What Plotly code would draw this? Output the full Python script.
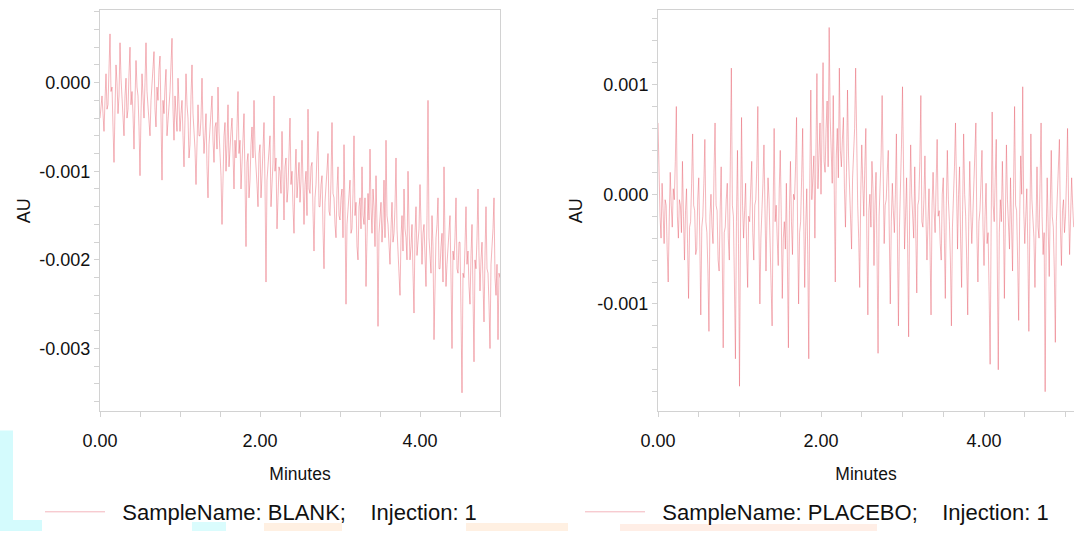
import plotly.graph_objects as go

# ---------------- data (AU values stored in units of 1e-5 AU) ----------------
step_min = 0.0125

blank_e5 = [
    -40, -25, -15, -35, -55, -20, 10, -30, -25, 15, 55, -10, -5, -50, -90, -30, 20, 0, -35, -15,
    45, 5, -20, -45, -60, -15, 5, -40, -30, 10, 40, -25, -10, -35, -75, -20, 25, -5, -15, -50,
    -105, -35, 10, -15, -40, 0, 45, -10, -25, -45, -60, -20, 0, 15, 35, -30, -50, -5, -20, 15,
    30, -40, -110, -20, -35, -5, 15, -60, -45, -25, -10, 20, 50, -30, -65, -15, -30, -55, 5, -25,
    -55, -35, -20, -60, -95, -40, 10, -25, -40, -85, -70, -15, 20, -35, -50, -75, -115, -45, -25, -60,
    -60, -40, 5, -50, -80, -60, -35, -95, -130, -70, -55, -40, -15, -65, -90, -50, -45, -75, -5, -55,
    -75, -105, -160, -80, -60, -45, -100, -70, -25, -95, -70, -55, -40, -90, -120, -65, -85, -50, -10, -80,
    -65, -120, -95, -60, -35, -110, -185, -90, -80, -130, -110, -70, -50, -85, -20, -75, -90, -115, -140, -80,
    -70, -130, -105, -80, -45, -115, -225, -110, -95, -75, -60, -140, -120, -90, -15, -100, -85, -165, -130, -95,
    -100, -125, -55, -110, -155, -95, -85, -135, -120, -80, -40, -115, -100, -140, -170, -105, -75, -130, -110, -90,
    -135, -110, -65, -125, -160, -115, -100, -150, -30, -120, -125, -95, -90, -145, -190, -130, -115, -80, -55, -140,
    -140, -115, -105, -165, -210, -135, -120, -100, -80, -145, -150, -110, -45, -125, -130, -160, -175, -120, -95, -150,
    -155, -130, -120, -175, -70, -145, -250, -160, -140, -115, -110, -170, -165, -125, -60, -150, -135, -185, -200, -140,
    -130, -165, -95, -150, -160, -130, -230, -175, -125, -155, -75, -140, -170, -120, -140, -185, -105, -160, -275, -170,
    -150, -135, -180, -155, -110, -175, -65, -150, -160, -190, -205, -165, -135, -180, -170, -140, -85, -165, -190, -210,
    -240, -175, -150, -190, -120, -165, -175, -200, -100, -160, -200, -185, -160, -215, -260, -170, -140, -195, -180, -165,
    -115, -180, -205, -170, -160, -195, -230, -150, -20, -175, -190, -215, -150, -185, -290, -200, -175, -160, -130, -210,
    -210, -185, -170, -225, -95, -180, -230, -205, -185, -160, -150, -220, -300, -190, -200, -175, -130, -210, -215, -180,
    -180, -260, -350, -215, -220, -185, -140, -205, -190, -230, -250, -195, -160, -240, -315, -200, -210, -175, -120, -195,
    -235, -200, -180, -225, -270, -195, -140, -210, -215, -250, -300, -205, -190, -165, -130, -220, -240, -205, -290, -215,
    -220,
]

placebo_e5 = [
    65, 15, -20, -40, 10, -15, -45, -5, -10, -50, -80, -25, 20, -10, -30, 5, -5, 30, 80, -20,
    -40, -5, -10, -35, 30, -20, -60, -15, 5, -45, -95, -30, -25, 10, 55, -10, -15, -55, -50, -5,
    15, -40, -110, -30, -20, 10, 50, -25, -35, -70, -125, -20, 0, -30, -45, 20, 65, -10, -15, -60,
    -70, -15, 25, -50, -140, -35, -30, -5, 10, -40, -60, 30, 115, -10, -20, -80, -150, -25, 40, -45,
    -175, -30, 70, -10, -40, -15, 10, -50, -85, -20, -25, 5, 30, -35, -60, -10, -5, 25, 80, -30,
    -100, -40, -20, 10, 45, -35, -70, -20, 15, -5, -45, -80, -120, -15, 60, -25, -10, -40, -65, 5,
    40, -20, -95, -40, -25, -50, 10, -60, -140, -15, 30, -25, -55, 0, -5, 25, 70, -30, -100, -35,
    -25, 15, 60, -20, -85, -30, 5, -55, -150, 10, 95, -5, 15, 35, -40, 20, 110, 5, 40, 65,
    0, 45, 120, 30, 20, 60, 85, 25, 152, 70, 45, 10, 90, -20, -80, 35, 60, 15, 115, 40,
    25, 50, 70, 5, -30, 20, 95, 35, 10, -25, -50, 15, 40, 60, 115, 20, -10, -40, -85, 0,
    45, 10, -20, 25, 60, -40, -110, -15, 0, -30, 30, 5, -65, -10, 20, -55, -145, -20, 10, 35,
    90, 15, -45, -10, -5, 20, 40, -35, -100, -25, 10, -15, -35, 0, 55, -40, -120, -30, 0, 45,
    98, 5, -50, -20, 15, -45, -130, -15, 45, 0, -20, -40, 25, -30, -90, -10, -5, 30, 90, -25,
    -30, -5, 35, -20, -60, -25, 5, -50, -110, -10, 20, -15, -35, 10, 50, -20, -15, -45, -60, 0,
    15, -35, -95, -10, 40, -5, -25, -60, -120, -30, -5, 25, 65, -20, -50, 0, 25, -40, -85, -15,
    55, 0, -20, -60, -110, -25, 30, -15, -45, -20, 5, 25, 65, -35, -80, -25, -15, 10, 40, -30,
    -65, -20, 10, -45, -35, -90, -155, -30, 75, -10, -25, 15, 50, -60, -160, -35, -5, -25, 30, -15,
    -95, -20, 45, -5, -30, -50, 15, -25, -70, 5, 80, -10, -15, -60, -115, -20, 35, 0, 98, -15,
    -45, -20, 5, -50, -125, -25, 55, -5, -20, -40, -85, -15, 25, -30, -40, 10, 65, -20, -55, -35,
    -180, -40, 15, -30, -75, -10, 40, -20, -30, -70, -135, -25, 5, 20, 50, -30, -65, -15, -5, -35,
    -20, 15, 60, -10, -55, -20, 15, -10, -30,
]

blank_name = "\u00a0\u00a0SampleName: BLANK;\u00a0\u00a0\u00a0\u00a0Injection: 1"
placebo_name = "\u00a0\u00a0SampleName: PLACEBO;\u00a0\u00a0\u00a0\u00a0Injection: 1"

x_tickvals = [0, 2, 4]
x_ticktext = ["0.00", "2.00", "4.00"]
blank_yvals = [0.0, -0.001, -0.002, -0.003]
blank_ytext = ["0.000", "-0.001", "-0.002", "-0.003"]
placebo_yvals = [0.001, 0.0, -0.001]
placebo_ytext = ["0.001", "0.000", "-0.001"]

# ---------------- build ----------------
t_blank = [i * step_min for i in range(len(blank_e5))]
t_placebo = [i * step_min for i in range(len(placebo_e5))]
y_blank = [v * 1e-5 for v in blank_e5]
y_placebo = [v * 1e-5 for v in placebo_e5]

W, H = 1074, 533
LINE = "rgba(228,80,95,0.42)"
FONT = "Liberation Sans, Arial, sans-serif"
GRAY = "#d2d2d2"

fig = go.Figure()
fig.add_trace(go.Scatter(x=t_blank, y=y_blank, mode="lines", name=blank_name,
                         line=dict(color=LINE, width=1), xaxis="x", yaxis="y",
                         legend="legend"))
fig.add_trace(go.Scatter(x=t_placebo, y=y_placebo, mode="lines", name=placebo_name,
                         line=dict(color=LINE, width=1), xaxis="x2", yaxis="y2",
                         legend="legend2"))

ydom = [(H - 413) / H, (H - 10) / H]

def xax(domain, rng, anchor):
    return dict(domain=domain, range=rng, anchor=anchor, automargin=False,
                tickmode="array", tickvals=x_tickvals,
                ticktext=x_ticktext, showline=True, linecolor=GRAY, linewidth=1,
                mirror=True, ticks="outside", ticklen=5, tickcolor=GRAY,
                ticklabelstandoff=8,
                showgrid=False, zeroline=False,
                minor=dict(dtick=0.5, tick0=0, ticks="outside", ticklen=5, tickcolor=GRAY),
                tickfont=dict(family=FONT, size=18, color="#111"),
                title=dict(text="Minutes", font=dict(family=FONT, size=17.5, color="#111"),
                           standoff=17))

def yax(anchor, rng, vals, text, mirror, standoff):
    return dict(domain=ydom, range=rng, anchor=anchor, automargin=False,
                tickmode="array",
                tickvals=vals, ticktext=text, showline=True, linecolor=GRAY, linewidth=1,
                mirror=mirror, ticks="outside", ticklen=5, tickcolor=GRAY,
                showgrid=False, zeroline=False,
                minor=dict(dtick=0.0002, tick0=0, ticks="outside", ticklen=5, tickcolor=GRAY),
                tickfont=dict(family=FONT, size=18, color="#111"),
                title=dict(text="AU", font=dict(family=FONT, size=18, color="#111"),
                           standoff=standoff))

# faint coloured blotches along the bottom/left edge of the original image
blotches = [
    (0, 13, 432, 533, "#d4fbfd"),
    (0, 42, 522, 533, "#d4fbfd"),
    (192, 226, 524, 533, "#dafcfd"),
    (264, 342, 525, 533, "#fff0e2"),
    (466, 568, 525, 533, "#fff0e2"),
    (620, 877, 526, 533, "#ffeee6"),
]
shapes = [dict(type="rect", xref="paper", yref="paper", x0=a / W, x1=b / W,
               y0=(H - d) / H, y1=(H - c) / H, fillcolor=col, line=dict(width=0),
               layer="below") for a, b, c, d, col in blotches]

fig.update_layout(
    width=W, height=H, margin=dict(l=0, r=0, t=0, b=0),
    paper_bgcolor="white", plot_bgcolor="rgba(0,0,0,0)",
    xaxis=xax([100 / W, 500 / W], [0, 5.0], "y"),
    yaxis=yax("x", [-0.00371, 0.00082], blank_yvals, blank_ytext, True, 4),
    xaxis2=xax([658 / W, 1.0], [0, 5.104], "y2"),
    yaxis2=yax("x2", [-0.00198, 0.00168], placebo_yvals, placebo_ytext, False, 10),
    legend=dict(x=40 / W, y=(H - 514) / H, xanchor="left", yanchor="middle",
                bgcolor="rgba(0,0,0,0)", itemwidth=60,
                font=dict(family=FONT, size=22, color="#111")),
    legend2=dict(x=580 / W, y=(H - 514) / H, xanchor="left", yanchor="middle",
                 bgcolor="rgba(0,0,0,0)", itemwidth=60,
                 font=dict(family=FONT, size=22, color="#111")),
    showlegend=True,
    shapes=shapes,
)

fig.write_html("out.html")
